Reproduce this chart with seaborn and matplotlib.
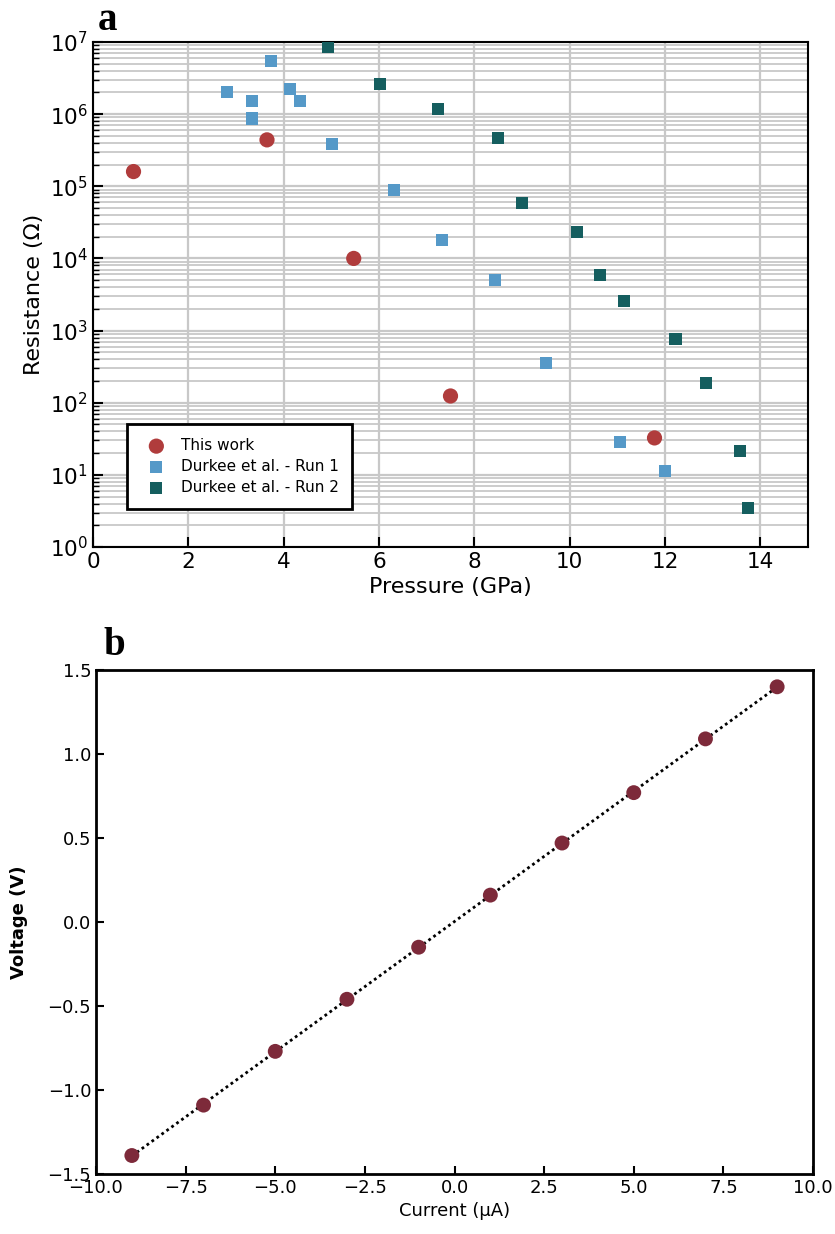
import numpy as np
import pandas as pd
import matplotlib
matplotlib.use("Agg")
import matplotlib.pyplot as plt
import seaborn as sns
from matplotlib.ticker import LogLocator, NullFormatter

# ---------------- data ----------------
this_p = [0.85, 3.65, 5.47, 7.5, 11.78]
this_r = [1.6e5, 4.4e5, 1.0e4, 124, 32.5]

run1_p = [2.81, 3.73, 3.33, 3.33, 4.13, 4.34, 5.01, 6.31, 7.32, 8.43, 9.5, 11.05, 12.01]
run1_r = [2.0e6, 5.5e6, 1.5e6, 8.7e5, 2.2e6, 1.5e6, 3.9e5, 9.0e4, 1.8e4, 5.0e3, 355, 28.6, 11.3]

run2_p = [4.93, 6.02, 7.23, 8.49, 8.99, 10.15, 10.63, 11.13, 12.22, 12.85, 13.58, 13.75]
run2_r = [8.5e6, 2.65e6, 1.18e6, 4.6e5, 5.9e4, 2.34e4, 5.9e3, 2.6e3, 770, 187, 21.4, 3.5]

current = [-9, -7, -5, -3, -1, 1, 3, 5, 7, 9]
voltage = [-1.39, -1.09, -0.77, -0.46, -0.15, 0.16, 0.47, 0.77, 1.09, 1.40]

c_this = "#b03c3c"
c_run1 = "#5599c8"
c_run2 = "#155e5f"
c_iv = "#7d2a3a"

sns.set_theme(style="white")
plt.rcParams['font.family'] = ['DejaVu Sans']
plt.rcParams.update({"text.color": "black", "axes.labelcolor": "black",
                     "xtick.color": "black", "ytick.color": "black"})

fig = plt.figure(figsize=(8.35, 12.34), dpi=100)
W, H = 835, 1234
ax1 = fig.add_axes([93 / W, 1 - 547 / H, (808 - 93) / W, (547 - 42) / H])
ax2 = fig.add_axes([96 / W, 1 - 1174 / H, (813 - 96) / W, (1174 - 670) / H])

# ---------------- panel a ----------------
ax1.set_yscale("log")
ax1.set_xlim(0, 15)
ax1.set_ylim(1, 1e7)
ax1.yaxis.set_major_locator(LogLocator(base=10, numticks=20))
ax1.yaxis.set_minor_locator(LogLocator(base=10, subs=np.arange(2, 10), numticks=100))
ax1.yaxis.set_minor_formatter(NullFormatter())
ax1.set_xticks([0, 2, 4, 6, 8, 10, 12, 14])
ax1.grid(True, which="major", axis="both", color="#c8c8c8", lw=1.6)
ax1.grid(True, which="minor", axis="y", color="#c8c8c8", lw=1.3)
ax1.set_axisbelow(True)

df_this = pd.DataFrame({"p": this_p, "r": this_r})
df_r1 = pd.DataFrame({"p": run1_p, "r": run1_r})
df_r2 = pd.DataFrame({"p": run2_p, "r": run2_r})
sns.scatterplot(data=df_this, x="p", y="r", ax=ax1, color=c_this, marker="o", s=120,
                edgecolor="none", label="This work", zorder=3)
sns.scatterplot(data=df_r1, x="p", y="r", ax=ax1, color=c_run1, marker="s", s=75,
                edgecolor="none", label="Durkee et al. - Run 1", zorder=3)
sns.scatterplot(data=df_r2, x="p", y="r", ax=ax1, color=c_run2, marker="s", s=75,
                edgecolor="none", label="Durkee et al. - Run 2", zorder=3)

ax1.set_xlabel("Pressure (GPa)", fontsize=16)
ax1.set_ylabel("Resistance (Ω)", fontsize=16)
ax1.tick_params(axis="both", which="major", direction="in", length=7, width=1.5,
                labelsize=15.5, top=False, right=False, left=True, bottom=True)
ax1.tick_params(axis="y", which="minor", direction="in", length=4, width=1, left=True)
for sp in ax1.spines.values():
    sp.set_color("black")
    sp.set_linewidth(1.5)
leg = ax1.legend(loc="lower left", bbox_to_anchor=(0.048, 0.075), borderaxespad=0,
                 fontsize=11, frameon=True, fancybox=False, edgecolor="black",
                 framealpha=1, borderpad=0.9, handletextpad=0.6, labelspacing=0.4)
leg.get_frame().set_linewidth(2)
fig.text(98 / W, 1 - 30 / H, "a", fontsize=28, fontweight="bold",
         family="Liberation Serif", va="baseline", ha="left")

# ---------------- panel b ----------------
ci = np.array(current, dtype=float)
vv = np.array(voltage, dtype=float)
slope, intercept = np.polyfit(ci, vv, 1)
fit_df = pd.DataFrame({"i": ci, "v": slope * ci + intercept})
sns.lineplot(data=fit_df, x="i", y="v", ax=ax2, color="black", ls=(0, (1, 1.2)), lw=2, zorder=2)
sns.scatterplot(data=pd.DataFrame({"i": current, "v": voltage}), x="i", y="v", ax=ax2,
                color=c_iv, s=115, edgecolor="none", zorder=3)
ax2.set_xlim(-10, 10)
ax2.set_ylim(-1.5, 1.5)
ax2.set_xticks(np.arange(-10, 10.1, 2.5))
ax2.set_yticks(np.arange(-1.5, 1.51, 0.5))
ax2.tick_params(axis="both", direction="in", length=6, width=1.5, labelsize=13,
                left=True, bottom=True)
ax2.set_xlabel("Current (µA)", fontsize=13)
ax2.set_ylabel("Voltage (V)", fontsize=13, fontweight="semibold", labelpad=14)
for sp in ax2.spines.values():
    sp.set_color("black")
    sp.set_linewidth(2)
fig.text(103 / W, 1 - 655 / H, "b", fontsize=28, fontweight="bold",
         family="Liberation Serif", va="baseline", ha="left")

fig.savefig("out.png", dpi=100)
